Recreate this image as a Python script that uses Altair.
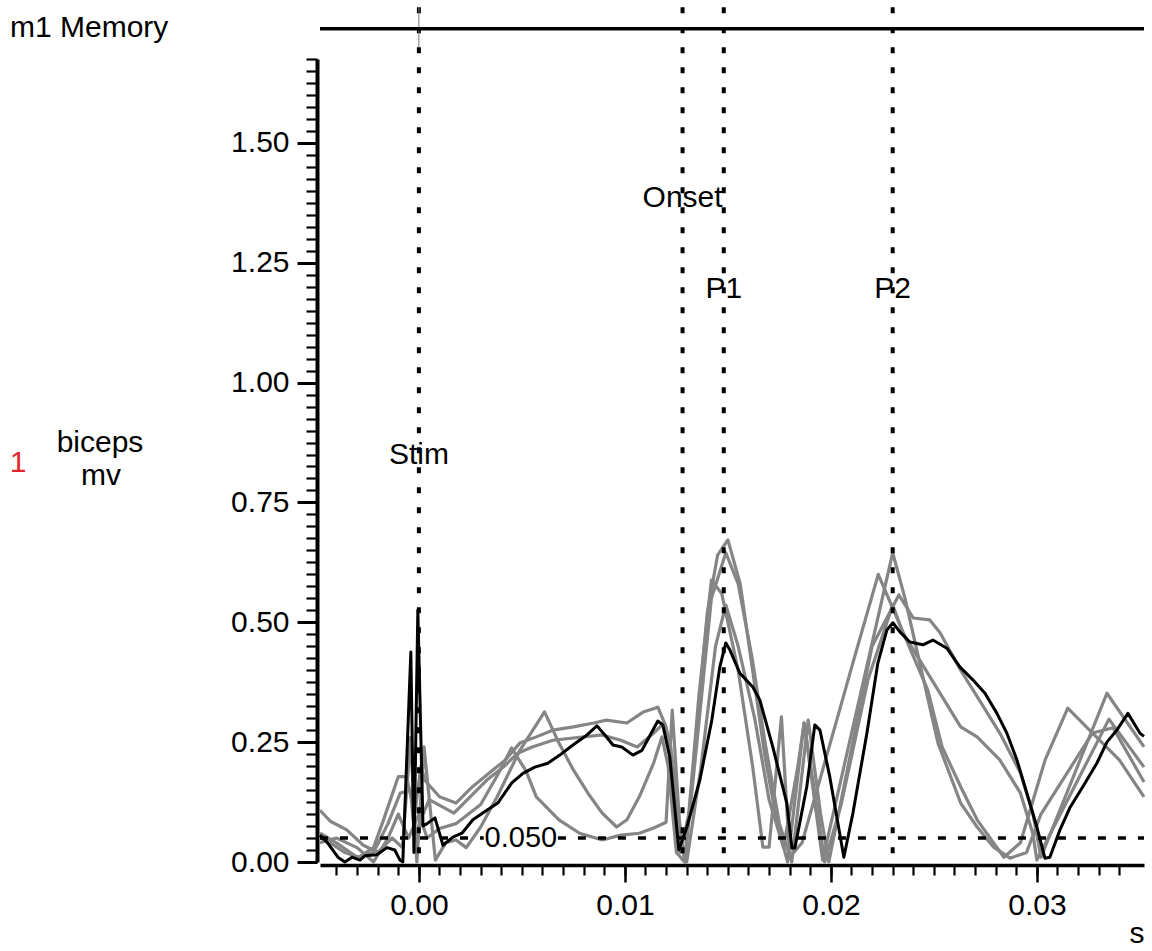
import altair as alt
import pandas as pd

FONT = "Liberation Sans"

# ---- sweep data: time (s) and amplitude (mV) ----
black_t = [-0.0048, -0.00447, -0.00393, -0.00359, -0.00325, -0.00286, -0.00262, -0.00204, -0.00155, -0.00117,
           -0.00092, -0.00078, -0.00039, -0.00024, -0.00005, 0.0002, 0.0004, 0.00078, 0.00117, 0.00165,
           0.00209, 0.00262, 0.0033, 0.00383, 0.00451, 0.00505, 0.00563, 0.00626, 0.00684, 0.00748,
           0.00816, 0.00864, 0.00903, 0.00942, 0.00985, 0.01039, 0.01083, 0.01131, 0.0116, 0.01184,
           0.01218, 0.01262, 0.01301, 0.01364, 0.01422, 0.01461, 0.0149, 0.0151, 0.01558, 0.01621,
           0.01655, 0.01718, 0.01786, 0.01811, 0.01825, 0.01883, 0.01922, 0.01947, 0.01995, 0.02063,
           0.02107, 0.02175, 0.02228, 0.02272, 0.02301, 0.02335, 0.02383, 0.02447, 0.02495, 0.02563,
           0.02626, 0.02689, 0.02748, 0.02806, 0.02854, 0.02903, 0.02951, 0.0300, 0.03039, 0.03063,
           0.03112, 0.0316, 0.03223, 0.03291, 0.0334, 0.03388, 0.03442, 0.0350, 0.0352]
black_v = [0.056, 0.042, 0.01, 0.0, 0.01, 0.004, 0.013, 0.015, 0.03, 0.025,
           0.004, 0.0, 0.438, 0.02, 0.525, 0.075, 0.08, 0.092, 0.035, 0.052,
           0.06, 0.088, 0.108, 0.123, 0.165, 0.185, 0.198, 0.206, 0.223, 0.244,
           0.265, 0.284, 0.265, 0.244, 0.24, 0.223, 0.233, 0.271, 0.294, 0.286,
           0.219, 0.025, 0.073, 0.171, 0.296, 0.407, 0.457, 0.442, 0.394, 0.365,
           0.338, 0.24, 0.123, 0.029, 0.029, 0.157, 0.286, 0.275, 0.177, 0.01,
           0.102, 0.269, 0.415, 0.484, 0.499, 0.48, 0.459, 0.453, 0.463, 0.446,
           0.407, 0.38, 0.352, 0.31, 0.269, 0.213, 0.144, 0.073, 0.008, 0.01,
           0.067, 0.113, 0.157, 0.206, 0.25, 0.275, 0.31, 0.269, 0.262]

gray_a_t = [-0.0048, -0.0043, -0.0036, -0.0029, -0.0022, -0.0017, -0.0010, -0.0006, -0.0002, 0.0001,
            0.0003, 0.0005, 0.0010, 0.0018, 0.0026, 0.0034, 0.0042, 0.0049, 0.0057, 0.0065,
            0.0075, 0.0085, 0.0091, 0.0101, 0.0109, 0.0116, 0.0120, 0.0124, 0.0127, 0.0131,
            0.0136, 0.0142, 0.0147, 0.0155, 0.0162, 0.0167, 0.0170, 0.0176, 0.0180, 0.0186,
            0.0211, 0.0223, 0.0247, 0.0254, 0.0263, 0.0271, 0.0279, 0.0284, 0.0292, 0.0304,
            0.0315, 0.0327, 0.0340, 0.0352]
gray_a_v = [0.05, 0.04, 0.02, 0.01, 0.03, 0.09, 0.178, 0.178, 0.10, 0.20,
            0.17, 0.16, 0.136, 0.123, 0.157, 0.185, 0.213, 0.248, 0.261, 0.275,
            0.282, 0.29, 0.296, 0.29, 0.313, 0.323, 0.282, 0.15, 0.02, 0.10,
            0.35, 0.588, 0.56, 0.40, 0.20, 0.031, 0.031, 0.303, 0.01, 0.04,
            0.42, 0.60, 0.359, 0.24, 0.157, 0.088, 0.04, 0.01, 0.04, 0.213,
            0.321, 0.269, 0.213, 0.136]

gray_b_t = [-0.0048, -0.0043, -0.0035, -0.0027, -0.0020, -0.0013, -0.0008, -0.0004, -0.0001, 0.00025,
            0.0008, 0.0013, 0.0018, 0.0023, 0.0030, 0.0038, 0.0049, 0.0061, 0.0068, 0.0075,
            0.0082, 0.0089, 0.0096, 0.0101, 0.0107, 0.0114, 0.0118, 0.0121, 0.0125, 0.0129,
            0.0135, 0.0140, 0.0145, 0.0150, 0.0156, 0.0162, 0.0168, 0.0174, 0.0179, 0.0187,
            0.0196, 0.0230, 0.0236, 0.0252, 0.0263, 0.0271, 0.0279, 0.0287, 0.0295, 0.0302,
            0.0327, 0.0337, 0.0352]
gray_b_v = [0.108, 0.085, 0.067, 0.035, 0.02, 0.05, 0.03, 0.26, 0.0, 0.24,
            0.004, 0.04, 0.046, 0.03, 0.073, 0.136, 0.233, 0.313, 0.248, 0.192,
            0.144, 0.102, 0.073, 0.088, 0.136, 0.207, 0.261, 0.20, 0.02, 0.0,
            0.28, 0.52, 0.64, 0.672, 0.58, 0.40, 0.22, 0.08, 0.0, 0.29,
            0.004, 0.645, 0.55, 0.248, 0.123, 0.073, 0.031, 0.008, 0.02, 0.10,
            0.269, 0.28, 0.167]

gray_c_t = [-0.0048, -0.0040, -0.0030, -0.0022, -0.0015, -0.0009, -0.0004, -0.0002, 0.0002, 0.0005,
            0.0017, 0.0033, 0.0041, 0.0048, 0.0055, 0.0065, 0.0089, 0.0098, 0.0106, 0.0114,
            0.0119, 0.0122, 0.0126, 0.0129, 0.0135, 0.0142, 0.0149, 0.0155, 0.0162, 0.0168,
            0.0175, 0.0181, 0.0189, 0.0195, 0.0199, 0.0220, 0.0233, 0.0240, 0.0248, 0.0253,
            0.0263, 0.0272, 0.0282, 0.0292, 0.0298, 0.0302, 0.0334, 0.0352]
gray_c_v = [0.06, 0.04, 0.01, 0.02, 0.08, 0.144, 0.15, 0.05, 0.10, 0.13,
            0.102, 0.171, 0.198, 0.227, 0.24, 0.254, 0.265, 0.254, 0.24, 0.269,
            0.29, 0.25, 0.10, 0.0, 0.25, 0.55, 0.645, 0.58, 0.42, 0.25,
            0.08, 0.0, 0.296, 0.10, 0.0, 0.45, 0.557, 0.509, 0.505, 0.478,
            0.40, 0.338, 0.269, 0.186, 0.102, 0.01, 0.352, 0.24]

gray_d_t = [-0.0048, -0.0040, -0.0030, -0.0022, -0.0015, -0.0010, -0.0005, 0.0, 0.0004, 0.0010,
            0.0018, 0.0030, 0.0038, 0.0045, 0.0052, 0.0057, 0.0068, 0.0078, 0.0089, 0.0098,
            0.0107, 0.0114, 0.0120, 0.0123, 0.0127, 0.0130, 0.0137, 0.0144, 0.0149, 0.0155,
            0.0163, 0.0170, 0.0177, 0.0184, 0.0187, 0.0192, 0.0197, 0.0205, 0.0218, 0.0230,
            0.0235, 0.0263, 0.0271, 0.0282, 0.0292, 0.0298, 0.0300, 0.0335, 0.0352]
gray_d_v = [0.04, 0.05, 0.03, 0.0, 0.05, 0.10, 0.05, 0.10, 0.05, 0.07,
            0.08, 0.12, 0.18, 0.238, 0.19, 0.136, 0.088, 0.06, 0.046, 0.056,
            0.06, 0.071, 0.083, 0.317, 0.05, 0.0, 0.20, 0.45, 0.536, 0.45,
            0.30, 0.13, 0.03, 0.20, 0.29, 0.15, 0.0, 0.12, 0.38, 0.536,
            0.478, 0.282, 0.261, 0.213, 0.144, 0.06, 0.004, 0.298, 0.198]

# ---- markers, threshold, axis ticks ----
marker_names = ["Stim", "Onset", "P1", "P2"]
marker_t = [0.0, 0.0128, 0.0148, 0.0230]
marker_label_v = [0.849, 1.386, 1.195, 1.195]
threshold_v = 0.05
threshold_label_t = 0.00495
memory_v = 1.738

x_domain = [-0.0048, 0.0352]
y_domain = [0.0, 1.675]
x_major = [0.0, 0.01, 0.02, 0.03]
x_minor = [round(i * 0.001, 3) for i in range(-4, 35)]
y_major = [0.0, 0.25, 0.5, 0.75, 1.0, 1.25, 1.5]
y_minor = [round(i * 0.025, 3) for i in range(68)]

# ---- tables ----
gray_frames = []
for name, t, v in [("a", gray_a_t, gray_a_v), ("b", gray_b_t, gray_b_v),
                   ("c", gray_c_t, gray_c_v), ("d", gray_d_t, gray_d_v)]:
    gray_frames.append(pd.DataFrame({"t": t, "v": v, "trace": name}))
gray_df = pd.concat(gray_frames, ignore_index=True)
black_df = pd.DataFrame({"t": black_t, "v": black_v})
marker_df = pd.DataFrame({"name": marker_names, "t": marker_t, "lv": marker_label_v})
gap = 0.0018
thr_df = pd.DataFrame({"t0": [x_domain[0], threshold_label_t + gap],
                       "t1": [threshold_label_t - gap, x_domain[1]]})

xs = alt.Scale(domain=x_domain, nice=False, zero=False)
ys = alt.Scale(domain=y_domain, nice=False, zero=False)

common_axis = dict(grid=False, title=None, tickColor="black", domainColor="black",
                   labelColor="black", labelFont=FONT, offset=3)

x_major_axis = alt.Axis(values=x_major, format=".2f", orient="bottom", tickSize=17, tickWidth=2.5,
                        domain=True, domainWidth=3.5, labelFontSize=30, labelPadding=8,
                        labelOverlap=False, labelFlush=False, **common_axis)
x_minor_axis = alt.Axis(values=x_minor, orient="bottom", tickSize=10, tickWidth=2.2,
                        labels=False, domain=False, **common_axis)
y_major_axis = alt.Axis(values=y_major, format=".2f", orient="left", tickSize=20, tickWidth=3,
                        domain=True, domainWidth=4, labelFontSize=30, labelPadding=8,
                        labelOverlap=False, labelFlush=False, **common_axis)
y_minor_axis = alt.Axis(values=y_minor, orient="left", tickSize=11, tickWidth=2.2,
                        labels=False, domain=False, **common_axis)

gray = alt.Chart(gray_df).mark_line(color="#858585", strokeWidth=3.2, strokeJoin="round").encode(
    x=alt.X("t:Q", scale=xs, axis=x_major_axis),
    y=alt.Y("v:Q", scale=ys, axis=y_major_axis),
    detail="trace:N",
)
black = alt.Chart(black_df).mark_line(color="black", strokeWidth=3, strokeJoin="round").encode(
    x=alt.X("t:Q", scale=xs, axis=x_minor_axis),
    y=alt.Y("v:Q", scale=ys, axis=y_minor_axis),
)

markers = alt.Chart(marker_df).mark_rule(color="black", strokeWidth=4, strokeDash=[6, 14]).encode(
    x=alt.X("t:Q", scale=xs, axis=None),
    y=alt.Y(datum=1.783, scale=ys, axis=None),
    y2=alt.Y2(datum=0.0),
)
stim_stub = alt.Chart(marker_df.iloc[:1]).mark_rule(color="#777777", strokeWidth=1).encode(
    x=alt.X("t:Q", scale=xs, axis=None),
    y=alt.Y(datum=1.783, scale=ys, axis=None),
    y2=alt.Y2(datum=1.70),
)
marker_text = alt.Chart(marker_df).mark_text(font=FONT, fontSize=30, color="black",
                                             align="center", baseline="middle").encode(
    x=alt.X("t:Q", scale=xs, axis=None),
    y=alt.Y("lv:Q", scale=ys, axis=None),
    text="name:N",
)

memory_line = alt.Chart(pd.DataFrame({"v": [memory_v]})).mark_rule(color="black", strokeWidth=3.5).encode(
    x=alt.X(datum=x_domain[0], scale=xs, axis=None),
    x2=alt.X2(datum=x_domain[1]),
    y=alt.Y("v:Q", scale=ys, axis=None),
)

thr = alt.Chart(thr_df).mark_rule(color="black", strokeWidth=3.5, strokeDash=[8, 12]).encode(
    x=alt.X("t0:Q", scale=xs, axis=None),
    x2="t1:Q",
    y=alt.Y(datum=threshold_v, scale=ys, axis=None),
)
thr_text = alt.Chart(pd.DataFrame({"label": [f"{threshold_v:.3f}"]})).mark_text(
    font=FONT, fontSize=29, color="black", align="center", baseline="middle").encode(
    x=alt.X(datum=threshold_label_t, scale=xs, axis=None),
    y=alt.Y(datum=threshold_v, scale=ys, axis=None),
    text="label:N",
)


def label(text, x, y, align="center", color="black", size=30):
    return alt.Chart(pd.DataFrame({"label": [text]})).mark_text(
        font=FONT, fontSize=size, color=color, align=align, baseline="alphabetic").encode(
        x=alt.value(x), y=alt.value(y), text="label:N")


texts = [
    label("m1 Memory", -310, -22, align="left"),
    label("1", -302, 413, color="#e3262d"),
    label("biceps", -220, 393),
    label("mv", -219, 426),
    label("s", 817, 884),
]

chart = alt.layer(gray, black, markers, stim_stub, memory_line, thr, thr_text, marker_text, *texts).resolve_axis(
    x="independent", y="independent"
).properties(
    width=824,
    height=803,
    padding={"left": 320, "top": 59, "right": 8, "bottom": 89},
    autosize=alt.AutoSizeParams(type="none"),
    background="white",
).configure_view(stroke=None)

chart.save("out.html", embed_options={"renderer": "svg", "actions": False})
